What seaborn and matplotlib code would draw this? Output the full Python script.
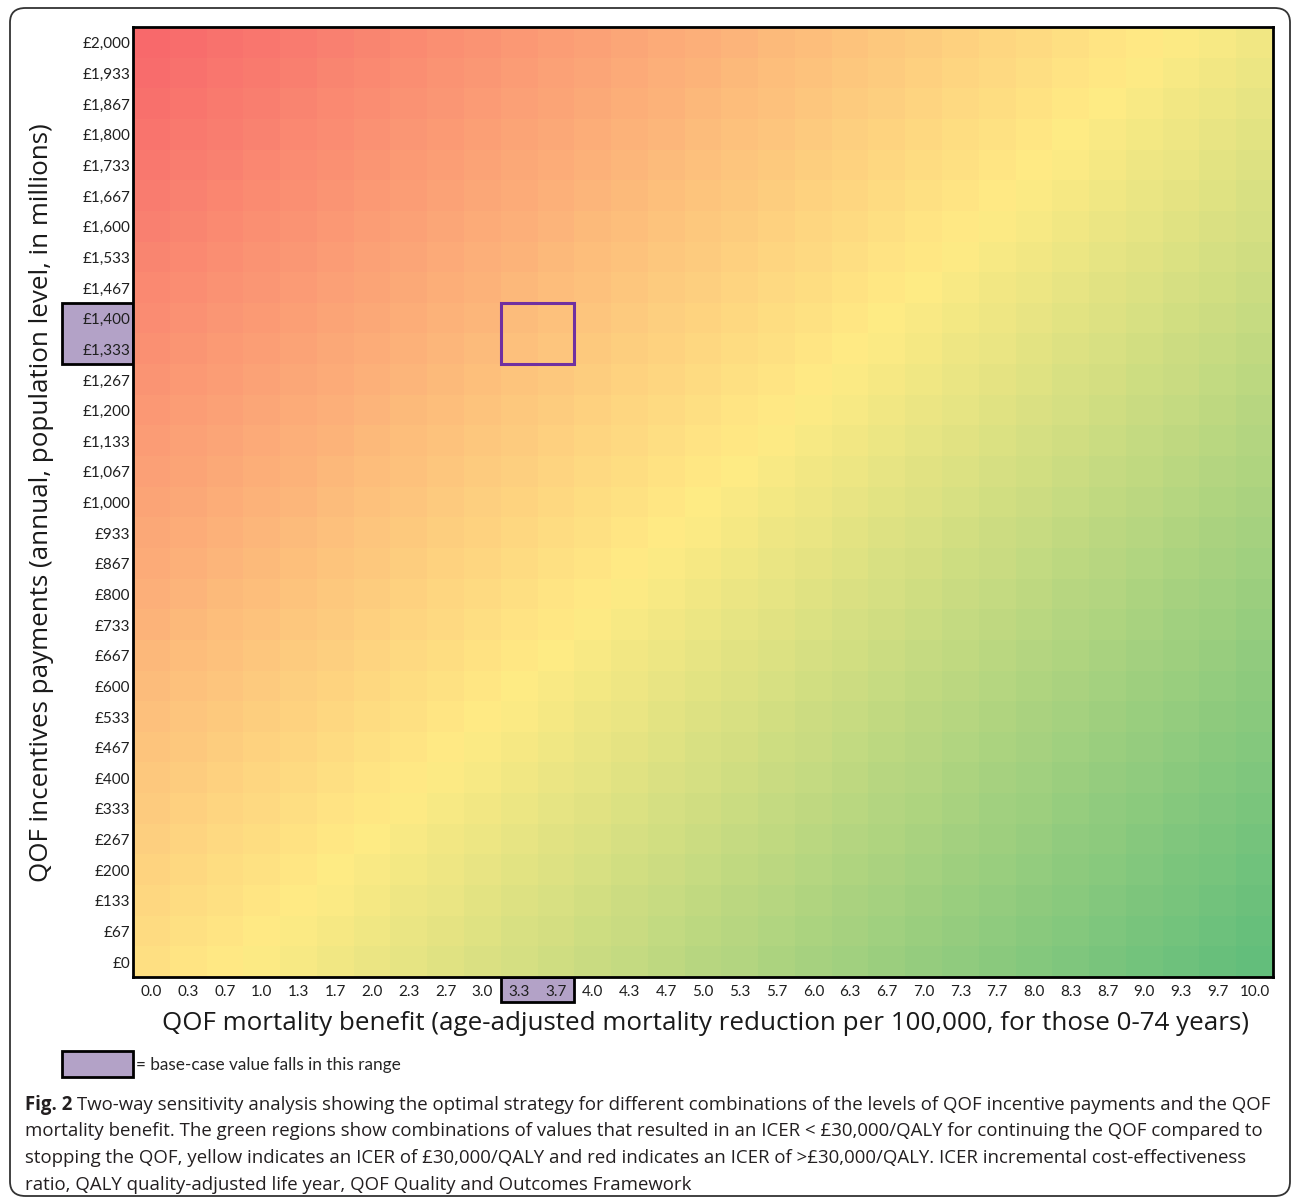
import numpy as np
import pandas as pd
import seaborn as sns
import matplotlib
matplotlib.use("Agg")
import matplotlib.pyplot as plt
from matplotlib.colors import LinearSegmentedColormap, TwoSlopeNorm
from matplotlib.patches import Rectangle, FancyBboxPatch
from matplotlib.transforms import blended_transform_factory, ScaledTranslation

# ---------------- data ----------------
benefit_labels = ["0.0", "0.3", "0.7", "1.0", "1.3", "1.7", "2.0", "2.3", "2.7", "3.0",
                  "3.3", "3.7", "4.0", "4.3", "4.7", "5.0", "5.3", "5.7", "6.0", "6.3",
                  "6.7", "7.0", "7.3", "7.7", "8.0", "8.3", "8.7", "9.0", "9.3", "9.7", "10.0"]

payment_labels = ["£2,000", "£1,933", "£1,867", "£1,800", "£1,733", "£1,667", "£1,600",
                  "£1,533", "£1,467", "£1,400", "£1,333", "£1,267", "£1,200", "£1,133",
                  "£1,067", "£1,000", "£933", "£867", "£800", "£733", "£667", "£600",
                  "£533", "£467", "£400", "£333", "£267", "£200", "£133", "£67", "£0"]

# net benefit (at £30,000/QALY), £ millions: rows = payments (top to bottom), cols = benefit
nmb = [
    [-2240,-2160,-2080,-2000,-1920,-1840,-1760,-1680,-1600,-1520,-1440,-1360,-1280,-1200,-1120,-1040,-960,-880,-800,-720,-640,-560,-480,-400,-320,-240,-160,-80,0,80,160],
    [-2173,-2093,-2013,-1933,-1853,-1773,-1693,-1613,-1533,-1453,-1373,-1293,-1213,-1133,-1053,-973,-893,-813,-733,-653,-573,-493,-413,-333,-253,-173,-93,-13,67,147,227],
    [-2107,-2027,-1947,-1867,-1787,-1707,-1627,-1547,-1467,-1387,-1307,-1227,-1147,-1067,-987,-907,-827,-747,-667,-587,-507,-427,-347,-267,-187,-107,-27,53,133,213,293],
    [-2040,-1960,-1880,-1800,-1720,-1640,-1560,-1480,-1400,-1320,-1240,-1160,-1080,-1000,-920,-840,-760,-680,-600,-520,-440,-360,-280,-200,-120,-40,40,120,200,280,360],
    [-1973,-1893,-1813,-1733,-1653,-1573,-1493,-1413,-1333,-1253,-1173,-1093,-1013,-933,-853,-773,-693,-613,-533,-453,-373,-293,-213,-133,-53,27,107,187,267,347,427],
    [-1907,-1827,-1747,-1667,-1587,-1507,-1427,-1347,-1267,-1187,-1107,-1027,-947,-867,-787,-707,-627,-547,-467,-387,-307,-227,-147,-67,13,93,173,253,333,413,493],
    [-1840,-1760,-1680,-1600,-1520,-1440,-1360,-1280,-1200,-1120,-1040,-960,-880,-800,-720,-640,-560,-480,-400,-320,-240,-160,-80,0,80,160,240,320,400,480,560],
    [-1773,-1693,-1613,-1533,-1453,-1373,-1293,-1213,-1133,-1053,-973,-893,-813,-733,-653,-573,-493,-413,-333,-253,-173,-93,-13,67,147,227,307,387,467,547,627],
    [-1707,-1627,-1547,-1467,-1387,-1307,-1227,-1147,-1067,-987,-907,-827,-747,-667,-587,-507,-427,-347,-267,-187,-107,-27,53,133,213,293,373,453,533,613,693],
    [-1640,-1560,-1480,-1400,-1320,-1240,-1160,-1080,-1000,-920,-840,-760,-680,-600,-520,-440,-360,-280,-200,-120,-40,40,120,200,280,360,440,520,600,680,760],
    [-1573,-1493,-1413,-1333,-1253,-1173,-1093,-1013,-933,-853,-773,-693,-613,-533,-453,-373,-293,-213,-133,-53,27,107,187,267,347,427,507,587,667,747,827],
    [-1507,-1427,-1347,-1267,-1187,-1107,-1027,-947,-867,-787,-707,-627,-547,-467,-387,-307,-227,-147,-67,13,93,173,253,333,413,493,573,653,733,813,893],
    [-1440,-1360,-1280,-1200,-1120,-1040,-960,-880,-800,-720,-640,-560,-480,-400,-320,-240,-160,-80,0,80,160,240,320,400,480,560,640,720,800,880,960],
    [-1373,-1293,-1213,-1133,-1053,-973,-893,-813,-733,-653,-573,-493,-413,-333,-253,-173,-93,-13,67,147,227,307,387,467,547,627,707,787,867,947,1027],
    [-1307,-1227,-1147,-1067,-987,-907,-827,-747,-667,-587,-507,-427,-347,-267,-187,-107,-27,53,133,213,293,373,453,533,613,693,773,853,933,1013,1093],
    [-1240,-1160,-1080,-1000,-920,-840,-760,-680,-600,-520,-440,-360,-280,-200,-120,-40,40,120,200,280,360,440,520,600,680,760,840,920,1000,1080,1160],
    [-1173,-1093,-1013,-933,-853,-773,-693,-613,-533,-453,-373,-293,-213,-133,-53,27,107,187,267,347,427,507,587,667,747,827,907,987,1067,1147,1227],
    [-1107,-1027,-947,-867,-787,-707,-627,-547,-467,-387,-307,-227,-147,-67,13,93,173,253,333,413,493,573,653,733,813,893,973,1053,1133,1213,1293],
    [-1040,-960,-880,-800,-720,-640,-560,-480,-400,-320,-240,-160,-80,0,80,160,240,320,400,480,560,640,720,800,880,960,1040,1120,1200,1280,1360],
    [-973,-893,-813,-733,-653,-573,-493,-413,-333,-253,-173,-93,-13,67,147,227,307,387,467,547,627,707,787,867,947,1027,1107,1187,1267,1347,1427],
    [-907,-827,-747,-667,-587,-507,-427,-347,-267,-187,-107,-27,53,133,213,293,373,453,533,613,693,773,853,933,1013,1093,1173,1253,1333,1413,1493],
    [-840,-760,-680,-600,-520,-440,-360,-280,-200,-120,-40,40,120,200,280,360,440,520,600,680,760,840,920,1000,1080,1160,1240,1320,1400,1480,1560],
    [-773,-693,-613,-533,-453,-373,-293,-213,-133,-53,27,107,187,267,347,427,507,587,667,747,827,907,987,1067,1147,1227,1307,1387,1467,1547,1627],
    [-707,-627,-547,-467,-387,-307,-227,-147,-67,13,93,173,253,333,413,493,573,653,733,813,893,973,1053,1133,1213,1293,1373,1453,1533,1613,1693],
    [-640,-560,-480,-400,-320,-240,-160,-80,0,80,160,240,320,400,480,560,640,720,800,880,960,1040,1120,1200,1280,1360,1440,1520,1600,1680,1760],
    [-573,-493,-413,-333,-253,-173,-93,-13,67,147,227,307,387,467,547,627,707,787,867,947,1027,1107,1187,1267,1347,1427,1507,1587,1667,1747,1827],
    [-507,-427,-347,-267,-187,-107,-27,53,133,213,293,373,453,533,613,693,773,853,933,1013,1093,1173,1253,1333,1413,1493,1573,1653,1733,1813,1893],
    [-440,-360,-280,-200,-120,-40,40,120,200,280,360,440,520,600,680,760,840,920,1000,1080,1160,1240,1320,1400,1480,1560,1640,1720,1800,1880,1960],
    [-373,-293,-213,-133,-53,27,107,187,267,347,427,507,587,667,747,827,907,987,1067,1147,1227,1307,1387,1467,1547,1627,1707,1787,1867,1947,2027],
    [-307,-227,-147,-67,13,93,173,253,333,413,493,573,653,733,813,893,973,1053,1133,1213,1293,1373,1453,1533,1613,1693,1773,1853,1933,2013,2093],
    [-240,-160,-80,0,80,160,240,320,400,480,560,640,720,800,880,960,1040,1120,1200,1280,1360,1440,1520,1600,1680,1760,1840,1920,2000,2080,2160],
]

base_case_benefit = ["3.3", "3.7"]
base_case_payment = ["£1,400", "£1,333"]

caption_lines = [
    "Two-way sensitivity analysis showing the optimal strategy for different combinations of the levels of QOF incentive payments and the QOF",
    "mortality benefit. The green regions show combinations of values that resulted in an ICER < £30,000/QALY for continuing the QOF compared to",
    "stopping the QOF, yellow indicates an ICER of £30,000/QALY and red indicates an ICER of >£30,000/QALY. ICER incremental cost-effectiveness",
    "ratio, QALY quality-adjusted life year, QOF Quality and Outcomes Framework",
]

# ---------------- figure ----------------
W, H = 1292, 1202
fig = plt.figure(figsize=(W / 100, H / 100), dpi=100)
fig.patch.set_facecolor("white")

ax = fig.add_axes([133 / W, 1 - 977 / H, 1140 / W, 950 / H])

df = pd.DataFrame(nmb, index=payment_labels, columns=benefit_labels)
arr = np.asarray(nmb, dtype=float)
cmap = LinearSegmentedColormap.from_list("excel3", ["#F8696B", "#FFEB84", "#63BE7B"])
norm = TwoSlopeNorm(vmin=arr.min(), vcenter=np.percentile(arr, 50), vmax=arr.max())

sns.heatmap(df, cmap=cmap, norm=norm, cbar=False, ax=ax, linewidths=0,
            xticklabels=True, yticklabels=True)

for s in ax.spines.values():
    s.set_visible(True)
    s.set_linewidth(2)
    s.set_color("black")

tick_font = dict(family="Lato", fontsize=11, color="#1f1f1f")
ax.set_xticklabels(benefit_labels, rotation=0, **tick_font)
ax.set_yticklabels(payment_labels, rotation=0, **tick_font)
ax.tick_params(axis="both", length=0)
ax.tick_params(axis="x", pad=6)
ax.tick_params(axis="y", pad=2)
shift = ScaledTranslation(0, -2 / 100, fig.dpi_scale_trans)
for lbl in ax.get_yticklabels():
    lbl.set_transform(lbl.get_transform() + shift)
ax.set_xlabel("")
ax.set_ylabel("")

# base-case highlights
bx0 = benefit_labels.index(base_case_benefit[0])
by0 = payment_labels.index(base_case_payment[0])
nbx, nby = len(base_case_benefit), len(base_case_payment)
purple_fill = "#B3A2C7"

ax.add_patch(Rectangle((bx0, by0), nbx, nby, fill=False, ec="#7030A0", lw=2.2, zorder=5))

tr_y = blended_transform_factory(ax.transAxes, ax.transData)
ax.add_patch(Rectangle((-71 / 1140, by0), 71 / 1140, nby, transform=tr_y, fc=purple_fill,
                       ec="black", lw=2, clip_on=False, zorder=0.5))
tr_x = blended_transform_factory(ax.transData, ax.transAxes)
ax.add_patch(Rectangle((bx0, -25 / 950), nbx, 25 / 950, transform=tr_x, fc=purple_fill,
                       ec="black", lw=2, clip_on=False, zorder=0.5))

# axis titles
fig.text((163 + 1247) / 2 / W, 1 - 1023 / H,
         "QOF mortality benefit (age-adjusted mortality reduction per 100,000, for those 0-74 years)",
         ha="center", va="center", fontsize=18.7, family="Open Sans", color="#1a1a1a")
fig.text(42 / W, 1 - 503 / H,
         "QOF incentives payments (annual, population level, in millions)",
         ha="center", va="center", rotation=90, fontsize=18.7, family="Open Sans", color="#1a1a1a")

# legend
fig.add_artist(Rectangle((62 / W, 1 - 1077 / H), 71 / W, 26 / H, transform=fig.transFigure,
                         fc=purple_fill, ec="black", lw=2))
fig.text(136 / W, 1 - 1065 / H, "= base-case value falls in this range",
         ha="left", va="center", fontsize=12.4, family="Lato", color="#262626")

# caption
cap_fs = 13.4
cap_y = [1105, 1131, 1158, 1185]
renderer = fig.canvas.get_renderer()
t0 = fig.text(25 / W, 1 - cap_y[0] / H, "Fig. 2", ha="left", va="center", fontsize=cap_fs,
              family="Open Sans", weight="bold", color="#231f20")
bb = t0.get_window_extent(renderer=renderer)
fig.text((bb.x1 + 5) / W, 1 - cap_y[0] / H, caption_lines[0], ha="left", va="center",
         fontsize=cap_fs, family="Open Sans", color="#231f20")
for yy, line in zip(cap_y[1:], caption_lines[1:]):
    fig.text(25 / W, 1 - yy / H, line, ha="left", va="center", fontsize=cap_fs,
             family="Open Sans", color="#231f20")

# outer rounded frame
fig.add_artist(FancyBboxPatch((10 / W, 1 - 1196 / H), 1280 / W, 1188 / H,
                              boxstyle="round,pad=0,rounding_size=0.012",
                              transform=fig.transFigure, fill=False, ec="#333333", lw=1.3))

fig.savefig("out.png", dpi=100)
